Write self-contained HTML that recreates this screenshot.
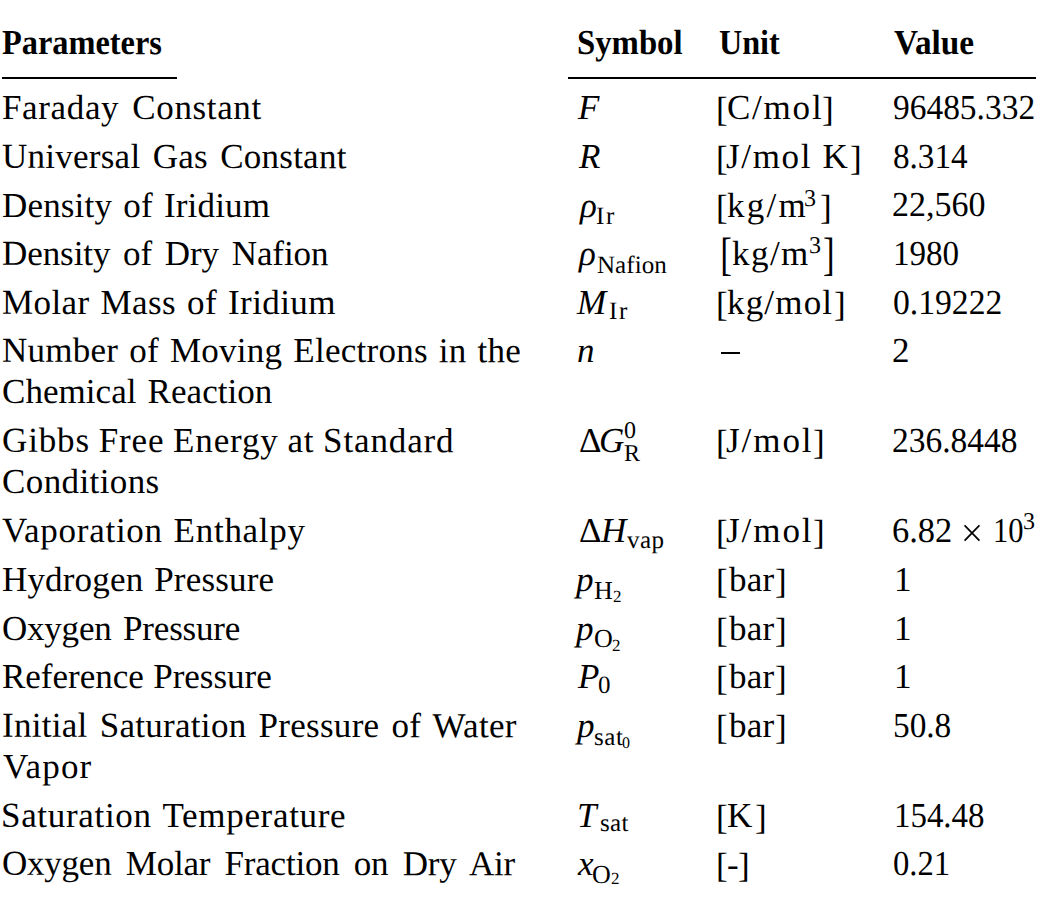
<!DOCTYPE html>
<html><head><meta charset="utf-8"><title>Parameters</title><style>
html,body{margin:0;padding:0;background:#fff;}
body{width:1048px;height:914px;position:relative;overflow:hidden;font-family:"Liberation Serif",serif;color:#000;}
.t{position:absolute;white-space:nowrap;}
.rule{position:absolute;background:#000;}
.c1{font-size:35px;line-height:35px;transform:rotate(0.05deg);}
.rt{transform:rotate(0.05deg);}
.bk{position:absolute;font-size:35px;line-height:35px;transform-origin:0 0;transform:scaleY(1.333);}
</style></head><body>
<div class="rule" style="left:2px;top:77px;width:175px;height:2px"></div>
<div class="rule" style="left:568px;top:77px;width:468px;height:2px"></div>
<div class="rule" style="left:720.6px;top:352px;width:19.8px;height:1.8px"></div>
<div class="t c1" style="left:2.29px;top:90.00px;letter-spacing:0.644px;word-spacing:3.63px">Faraday Constant</div>
<div class="t c1" style="left:2.23px;top:139.00px;letter-spacing:0.257px;word-spacing:3.28px">Universal Gas Constant</div>
<div class="t c1" style="left:2.27px;top:187.50px;letter-spacing:0.171px;word-spacing:2.27px">Density of Iridium</div>
<div class="t c1" style="left:2.28px;top:236.00px;letter-spacing:-0.064px;word-spacing:3.98px">Density of Dry Nafion</div>
<div class="t c1" style="left:2.37px;top:284.70px;letter-spacing:0.418px;word-spacing:1.77px">Molar Mass of Iridium</div>
<div class="t c1" style="left:2.39px;top:333.30px;letter-spacing:0.264px;word-spacing:1.96px">Number of Moving Electrons in the</div>
<div class="t c1" style="left:2.27px;top:374.20px;letter-spacing:0.047px;word-spacing:2.31px">Chemical Reaction</div>
<div class="t c1" style="left:2.25px;top:423.20px;letter-spacing:0.868px;word-spacing:-0.90px">Gibbs Free Energy at Standard</div>
<div class="t c1" style="left:2.30px;top:464.00px;letter-spacing:0.400px;word-spacing:0.00px">Conditions</div>
<div class="t c1" style="left:2.33px;top:512.50px;letter-spacing:0.725px;word-spacing:1.32px">Vaporation Enthalpy</div>
<div class="t c1" style="left:2.31px;top:561.50px;letter-spacing:0.172px;word-spacing:1.96px">Hydrogen Pressure</div>
<div class="t c1" style="left:2.26px;top:610.50px;letter-spacing:-0.214px;word-spacing:3.06px">Oxygen Pressure</div>
<div class="t c1" style="left:2.28px;top:659.00px;letter-spacing:-0.014px;word-spacing:0.79px">Reference Pressure</div>
<div class="t c1" style="left:2.25px;top:707.80px;letter-spacing:0.295px;word-spacing:2.97px">Initial Saturation Pressure of Water</div>
<div class="t c1" style="left:3.30px;top:748.50px;letter-spacing:1.175px;word-spacing:0.00px">Vapor</div>
<div class="t c1" style="left:1.30px;top:798.00px;letter-spacing:0.679px;word-spacing:2.03px">Saturation Temperature</div>
<div class="t c1" style="left:2.18px;top:846.20px;letter-spacing:-0.224px;word-spacing:5.85px">Oxygen Molar Fraction on Dry Air</div>
<div class="t" style="left:1.83px;top:25.00px;font-size:35px;line-height:35px;letter-spacing:0px;font-weight:bold;transform:scaleX(0.9249) rotate(0.05deg);transform-origin:0 0">Parameters</div>
<div class="t" style="left:576.83px;top:25.00px;font-size:35px;line-height:35px;letter-spacing:0px;font-weight:bold;transform:scaleX(0.9364) rotate(0.05deg);transform-origin:0 0">Symbol</div>
<div class="t" style="left:719.08px;top:25.00px;font-size:35px;line-height:35px;letter-spacing:0px;font-weight:bold;transform:scaleX(0.9185) rotate(0.05deg);transform-origin:0 0">Unit</div>
<div class="t" style="left:894.10px;top:25.00px;font-size:35px;line-height:35px;letter-spacing:0px;font-weight:bold;transform:scaleX(0.9506) rotate(0.05deg);transform-origin:0 0">Value</div>
<div class="t rt" style="left:716.2px;top:92.00px;font-size:35px;line-height:35px;letter-spacing:0px;">[</div>
<div class="t rt" style="left:726.5px;top:90.00px;font-size:35px;line-height:35px;letter-spacing:1.78px;">C/mol</div>
<div class="t rt" style="left:822.0px;top:92.00px;font-size:35px;line-height:35px;letter-spacing:0px;">]</div>
<div class="t rt" style="left:716.2px;top:141.00px;font-size:35px;line-height:35px;letter-spacing:0px;">[</div>
<div class="t rt" style="left:726.0px;top:139.00px;font-size:35px;line-height:35px;letter-spacing:1.67px;">J/mol K</div>
<div class="t rt" style="left:849.8px;top:141.00px;font-size:35px;line-height:35px;letter-spacing:0px;">]</div>
<div class="t rt" style="left:716.2px;top:189.50px;font-size:35px;line-height:35px;letter-spacing:0px;">[</div>
<div class="t rt" style="left:726.5px;top:187.50px;font-size:35px;line-height:35px;letter-spacing:2.3px;">kg/m</div>
<div class="t rt" style="left:820.0px;top:189.50px;font-size:35px;line-height:35px;letter-spacing:0px;">]</div>
<div class="t rt" style="left:804.1px;top:185.80px;font-size:24px;line-height:24px;letter-spacing:0px;">3</div>
<div class="t rt" style="left:731.6px;top:236.00px;font-size:35px;line-height:35px;letter-spacing:1.47px;">kg/m</div>
<div class="t rt" style="left:809.0px;top:233.00px;font-size:24px;line-height:24px;letter-spacing:0px;">3</div>
<div class="t rt" style="left:716.2px;top:286.60px;font-size:35px;line-height:35px;letter-spacing:0px;">[</div>
<div class="t rt" style="left:727.0px;top:284.60px;font-size:35px;line-height:35px;letter-spacing:1.18px;">kg/mol</div>
<div class="t rt" style="left:833.9px;top:286.60px;font-size:35px;line-height:35px;letter-spacing:0px;">]</div>
<div class="t rt" style="left:716.2px;top:425.20px;font-size:35px;line-height:35px;letter-spacing:0px;">[</div>
<div class="t rt" style="left:725.9px;top:423.20px;font-size:35px;line-height:35px;letter-spacing:1.95px;">J/mol</div>
<div class="t rt" style="left:812.9px;top:425.20px;font-size:35px;line-height:35px;letter-spacing:0px;">]</div>
<div class="t rt" style="left:716.2px;top:514.50px;font-size:35px;line-height:35px;letter-spacing:0px;">[</div>
<div class="t rt" style="left:725.9px;top:512.50px;font-size:35px;line-height:35px;letter-spacing:1.95px;">J/mol</div>
<div class="t rt" style="left:812.9px;top:514.50px;font-size:35px;line-height:35px;letter-spacing:0px;">]</div>
<div class="t rt" style="left:716.2px;top:563.50px;font-size:35px;line-height:35px;letter-spacing:0px;">[</div>
<div class="t rt" style="left:729.2px;top:561.50px;font-size:35px;line-height:35px;letter-spacing:0.25px;">bar</div>
<div class="t rt" style="left:775.1px;top:563.50px;font-size:35px;line-height:35px;letter-spacing:0px;">]</div>
<div class="t rt" style="left:716.2px;top:612.50px;font-size:35px;line-height:35px;letter-spacing:0px;">[</div>
<div class="t rt" style="left:729.2px;top:610.50px;font-size:35px;line-height:35px;letter-spacing:0.25px;">bar</div>
<div class="t rt" style="left:775.1px;top:612.50px;font-size:35px;line-height:35px;letter-spacing:0px;">]</div>
<div class="t rt" style="left:716.2px;top:661.00px;font-size:35px;line-height:35px;letter-spacing:0px;">[</div>
<div class="t rt" style="left:729.2px;top:659.00px;font-size:35px;line-height:35px;letter-spacing:0.25px;">bar</div>
<div class="t rt" style="left:775.1px;top:661.00px;font-size:35px;line-height:35px;letter-spacing:0px;">]</div>
<div class="t rt" style="left:716.2px;top:709.80px;font-size:35px;line-height:35px;letter-spacing:0px;">[</div>
<div class="t rt" style="left:729.2px;top:707.80px;font-size:35px;line-height:35px;letter-spacing:0.25px;">bar</div>
<div class="t rt" style="left:775.1px;top:709.80px;font-size:35px;line-height:35px;letter-spacing:0px;">]</div>
<div class="t rt" style="left:716.2px;top:800.00px;font-size:35px;line-height:35px;letter-spacing:0px;">[</div>
<div class="t rt" style="left:726.8px;top:798.00px;font-size:35px;line-height:35px;letter-spacing:0px;">K</div>
<div class="t rt" style="left:754.8px;top:800.00px;font-size:35px;line-height:35px;letter-spacing:0px;">]</div>
<div class="t rt" style="left:716.2px;top:848.20px;font-size:35px;line-height:35px;letter-spacing:0px;">[</div>
<div class="t rt" style="left:738.1px;top:848.20px;font-size:35px;line-height:35px;letter-spacing:0px;">]</div>
<div class="t rt" style="left:727.0px;top:846.50px;font-size:35px;line-height:35px;letter-spacing:0px;">-</div>
<div class="t" style="left:893.44px;top:90.00px;font-size:35px;line-height:35px;letter-spacing:0px;transform:scaleX(0.9555) rotate(0.05deg);transform-origin:0 0">96485.332</div>
<div class="t" style="left:893.45px;top:139.00px;font-size:35px;line-height:35px;letter-spacing:0px;transform:scaleX(0.9468) rotate(0.05deg);transform-origin:0 0">8.314</div>
<div class="t" style="left:891.96px;top:187.30px;font-size:35px;line-height:35px;letter-spacing:0px;transform:scaleX(0.9710) rotate(0.05deg);transform-origin:0 0">22,560</div>
<div class="t" style="left:893.27px;top:235.90px;font-size:35px;line-height:35px;letter-spacing:0px;transform:scaleX(0.9439) rotate(0.05deg);transform-origin:0 0">1980</div>
<div class="t" style="left:892.94px;top:284.60px;font-size:35px;line-height:35px;letter-spacing:0px;transform:scaleX(0.9613) rotate(0.05deg);transform-origin:0 0">0.19222</div>
<div class="t rt" style="left:891.9px;top:333.00px;font-size:35px;line-height:35px;letter-spacing:0px;">2</div>
<div class="t" style="left:891.99px;top:423.20px;font-size:35px;line-height:35px;letter-spacing:0px;transform:scaleX(0.9555) rotate(0.05deg);transform-origin:0 0">236.8448</div>
<div class="t rt" style="left:893.6px;top:561.50px;font-size:35px;line-height:35px;letter-spacing:0px;">1</div>
<div class="t rt" style="left:893.6px;top:610.50px;font-size:35px;line-height:35px;letter-spacing:0px;">1</div>
<div class="t rt" style="left:893.6px;top:659.00px;font-size:35px;line-height:35px;letter-spacing:0px;">1</div>
<div class="t" style="left:893.00px;top:707.80px;font-size:35px;line-height:35px;letter-spacing:0px;transform:scaleX(0.9517) rotate(0.05deg);transform-origin:0 0">50.8</div>
<div class="t" style="left:893.58px;top:798.00px;font-size:35px;line-height:35px;letter-spacing:0px;transform:scaleX(0.9402) rotate(0.05deg);transform-origin:0 0">154.48</div>
<div class="t" style="left:893.27px;top:846.20px;font-size:35px;line-height:35px;letter-spacing:0px;transform:scaleX(0.9328) rotate(0.05deg);transform-origin:0 0">0.21</div>
<div class="t" style="left:892.43px;top:512.50px;font-size:35px;line-height:35px;letter-spacing:0px;transform:scaleX(0.9842) rotate(0.05deg);transform-origin:0 0">6.82</div>
<div class="t" style="left:993.09px;top:512.50px;font-size:35px;line-height:35px;letter-spacing:0px;transform:scaleX(0.8710) rotate(0.05deg);transform-origin:0 0">10</div>
<div class="t rt" style="left:1023.4px;top:508.50px;font-size:24px;line-height:24px;letter-spacing:0px;">3</div>
<div class="t rt" style="left:578.4px;top:89.70px;font-size:35px;line-height:35px;letter-spacing:0px;font-style:italic;">F</div>
<div class="t rt" style="left:578.9px;top:139.00px;font-size:35px;line-height:35px;letter-spacing:0px;font-style:italic;">R</div>
<div class="t rt" style="left:580.1px;top:187.50px;font-size:35px;line-height:35px;letter-spacing:0px;font-style:italic;">&rho;</div>
<div class="t rt" style="left:596.2px;top:202.90px;font-size:25px;line-height:25px;letter-spacing:1.7px;">Ir</div>
<div class="t rt" style="left:579.4px;top:236.00px;font-size:35px;line-height:35px;letter-spacing:0px;font-style:italic;">&rho;</div>
<div class="t rt" style="left:596.6px;top:251.60px;font-size:25px;line-height:25px;letter-spacing:0.06px;">Nafion</div>
<div class="t rt" style="left:577.2px;top:284.90px;font-size:35px;line-height:35px;letter-spacing:0px;font-style:italic;">M</div>
<div class="t rt" style="left:608.6px;top:297.60px;font-size:25px;line-height:25px;letter-spacing:1.7px;">Ir</div>
<div class="t rt" style="left:577.2px;top:333.00px;font-size:35px;line-height:35px;letter-spacing:0px;font-style:italic;">n</div>
<div class="t rt" style="left:578.5px;top:422.90px;font-size:35px;line-height:35px;letter-spacing:0px;">&Delta;</div>
<div class="t rt" style="left:599.4px;top:423.20px;font-size:35px;line-height:35px;letter-spacing:0px;font-style:italic;">G</div>
<div class="t rt" style="left:624.2px;top:418.30px;font-size:24px;line-height:24px;letter-spacing:0px;">0</div>
<div class="t rt" style="left:624.2px;top:441.10px;font-size:24px;line-height:24px;letter-spacing:0px;">R</div>
<div class="t rt" style="left:578.5px;top:512.80px;font-size:35px;line-height:35px;letter-spacing:0px;">&Delta;</div>
<div class="t rt" style="left:600.7px;top:512.80px;font-size:35px;line-height:35px;letter-spacing:0px;font-style:italic;">H</div>
<div class="t rt" style="left:626.9px;top:526.70px;font-size:25px;line-height:25px;letter-spacing:0.4px;">vap</div>
<div class="t rt" style="left:576.4px;top:561.50px;font-size:35px;line-height:35px;letter-spacing:0px;font-style:italic;">p</div>
<div class="t rt" style="left:594.0px;top:578.10px;font-size:26px;line-height:26px;letter-spacing:0px;">H</div>
<div class="t rt" style="left:612.7px;top:588.10px;font-size:17px;line-height:17px;letter-spacing:0px;">2</div>
<div class="t rt" style="left:576.4px;top:610.50px;font-size:35px;line-height:35px;letter-spacing:0px;font-style:italic;">p</div>
<div class="t rt" style="left:594.0px;top:626.30px;font-size:26px;line-height:26px;letter-spacing:0px;">O</div>
<div class="t rt" style="left:611.9px;top:636.70px;font-size:17px;line-height:17px;letter-spacing:0px;">2</div>
<div class="t rt" style="left:577.7px;top:658.80px;font-size:35px;line-height:35px;letter-spacing:0px;font-style:italic;">P</div>
<div class="t rt" style="left:598.1px;top:671.60px;font-size:25px;line-height:25px;letter-spacing:0px;">0</div>
<div class="t rt" style="left:576.5px;top:707.80px;font-size:35px;line-height:35px;letter-spacing:0px;font-style:italic;">p</div>
<div class="t rt" style="left:594.2px;top:723.90px;font-size:25px;line-height:25px;letter-spacing:0.65px;">sat</div>
<div class="t rt" style="left:622.0px;top:734.70px;font-size:16px;line-height:16px;letter-spacing:0px;">0</div>
<div class="t rt" style="left:576.9px;top:798.00px;font-size:35px;line-height:35px;letter-spacing:0px;font-style:italic;">T</div>
<div class="t rt" style="left:599.7px;top:810.40px;font-size:25px;line-height:25px;letter-spacing:0.35px;">sat</div>
<div class="t rt" style="left:577.7px;top:846.20px;font-size:35px;line-height:35px;letter-spacing:0px;font-style:italic;">x</div>
<div class="t rt" style="left:592.0px;top:861.80px;font-size:26px;line-height:26px;letter-spacing:0px;">O</div>
<div class="t rt" style="left:610.6px;top:870.00px;font-size:17px;line-height:17px;letter-spacing:0px;">2</div>
<div class="bk" style="left:720.2px;top:230.9px">[</div>
<div class="bk" style="left:823px;top:230.9px">]</div>
<svg style="position:absolute;left:0;top:0" width="1048" height="914"><path d="M964.6 525.4L979.4 540.7M979.4 525.4L964.6 540.7" stroke="#000" stroke-width="1.7" fill="none"/></svg>
</body></html>
